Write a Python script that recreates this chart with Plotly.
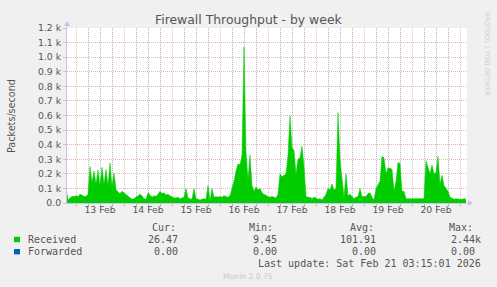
import pandas as pd
import plotly.graph_objects as go

# ---- data (packets/second, hourly) ----
feb12 = [105, 20, 35, 45, 45]  # 19:00 .. 23:00
feb13 = [50, 45, 60, 55, 45, 45, 60, 250, 140, 220, 130, 225, 120, 245, 130, 230, 120, 275, 110, 205, 95, 75, 65, 80]
feb14 = [70, 55, 45, 35, 25, 30, 40, 45, 60, 50, 30, 25, 70, 55, 40, 50, 45, 60, 80, 65, 70, 55, 60, 50]
feb15 = [40, 35, 35, 40, 30, 35, 40, 100, 35, 30, 25, 100, 30, 25, 20, 25, 30, 25, 120, 15, 100, 40, 45, 40]
feb16 = [45, 40, 50, 45, 40, 50, 100, 150, 220, 270, 260, 330, 1070, 350, 160, 330, 120, 80, 110, 90, 100, 70, 60, 50]
feb17 = [45, 40, 45, 40, 35, 60, 200, 180, 190, 200, 330, 600, 380, 360, 200, 300, 310, 390, 250, 45, 40, 40, 30, 40]
feb18 = [35, 25, 30, 20, 40, 60, 100, 90, 130, 90, 100, 620, 300, 170, 40, 200, 50, 60, 45, 30, 40, 45, 100, 45]
feb19 = [45, 45, 65, 70, 40, 20, 100, 130, 150, 320, 310, 200, 240, 240, 230, 80, 150, 280, 270, 80, 80, 30, 30, 30]
feb20 = [30, 30, 25, 30, 30, 30, 30, 290, 240, 200, 260, 200, 210, 320, 130, 190, 120, 100, 80, 40, 30, 25, 30, 25]
feb21 = [25, 25, 30, 26.47]  # 00:00 .. 03:00

received = feb12 + feb13 + feb14 + feb15 + feb16 + feb17 + feb18 + feb19 + feb20 + feb21
times = pd.date_range("2026-02-12 19:00", periods=len(received), freq="h")
forwarded = [0.0] * len(received)

day_labels = ["13 Feb", "14 Feb", "15 Feb", "16 Feb", "17 Feb", "18 Feb", "19 Feb", "20 Feb"]
day_noons = pd.date_range("2026-02-13 12:00", periods=len(day_labels), freq="D")
y_ticks = list(range(0, 1300, 100))
y_text = ["0.0"] + ["%.1f k" % (v / 1000) for v in y_ticks[1:]]

legend_rows = [
    ("Received", "#00CC00", "26.47", "9.45", "101.91", "2.44k"),
    ("Forwarded", "#0066B3", "0.00", "0.00", "0.00", "0.00"),
]

# ---- layout geometry ----
W, H = 497, 287
L, R, T, B = 67, 467, 28, 203


def px(x):
    return (x - L) / (R - L)


def py(y):
    return (B - y) / (B - T)


RED = "#ECB6B6"
GRAY = "#B4B4B4"
AXIS = "#C4C4EE"
TXT = "#555555"

fig = go.Figure()
fig.add_trace(go.Scatter(x=times, y=received, mode="lines", fill="tozeroy",
                         line=dict(color="#00CC00", width=0.5), fillcolor="#00CC00",
                         showlegend=False, hoverinfo="skip"))
for ax in ("x2", "x3"):
    fig.add_trace(go.Scatter(x=times, y=forwarded, mode="lines", xaxis=ax,
                             line=dict(color="#0066B3", width=0), showlegend=False,
                             hoverinfo="skip"))

xr = ["2026-02-12 19:30", "2026-02-21 03:30"]
fig.update_layout(
    width=W, height=H,
    margin=dict(l=L, r=W - R, t=T, b=H - B),
    paper_bgcolor="#F0F0F0", plot_bgcolor="#FFFFFF",
    font=dict(family="DejaVu Sans", size=9.3, color=TXT),
    # 6-hour minor grid (gray)
    xaxis=dict(type="date", range=xr, tick0="2026-02-13", dtick=6 * 3600000,
               showgrid=True, gridcolor=GRAY, griddash="1px,1px", gridwidth=1,
               ticks="outside", ticklen=3, tickcolor=GRAY, showticklabels=False,
               showline=True, linecolor=AXIS, linewidth=1),
    # daily major grid (red)
    xaxis2=dict(type="date", range=xr, overlaying="x", anchor="y", side="bottom",
                tick0="2026-02-13", dtick=86400000,
                showgrid=True, gridcolor=RED, griddash="1px,1px", gridwidth=1,
                ticks="outside", ticklen=3, tickcolor=RED, showticklabels=False,
                showline=False),
    # day labels at noon
    xaxis3=dict(type="date", range=xr, overlaying="x", anchor="y", side="bottom",
                tickmode="array", tickvals=list(day_noons), ticktext=day_labels,
                showgrid=False, ticks="", showline=False,
                tickfont=dict(size=9.3, color=TXT)),
    yaxis=dict(range=[0, 1200], tickmode="array", tickvals=y_ticks, ticktext=y_text,
               showgrid=True, gridcolor=RED, griddash="1px,1px", zeroline=False,
               ticks="outside", ticklen=3, tickcolor=RED,
               showline=True, linecolor=AXIS, linewidth=1,
               tickfont=dict(size=9.3, color=TXT)),
)

shapes = [
    # axis arrow heads
    dict(type="line", xref="paper", yref="paper", x0=px(67), x1=px(67), y0=py(28), y1=py(23),
         line=dict(color=AXIS, width=1)),
    dict(type="path", xref="paper", yref="paper",
         path="M %f %f L %f %f L %f %f Z" % (px(64), py(26), px(70), py(26), px(67), py(21)),
         fillcolor=AXIS, line=dict(width=0)),
    dict(type="line", xref="paper", yref="paper", x0=px(467), x1=px(470), y0=py(203), y1=py(203),
         line=dict(color=AXIS, width=1)),
    dict(type="path", xref="paper", yref="paper",
         path="M %f %f L %f %f L %f %f Z" % (px(468), py(200), px(468), py(206), px(473), py(203)),
         fillcolor=AXIS, line=dict(width=0)),
]

ann = []


def text(x, y, s, xanchor="left", size=10, color=TXT, family="DejaVu Sans Mono", angle=0):
    ann.append(dict(x=px(x), y=py(y), xref="paper", yref="paper", text=s, showarrow=False,
                    xanchor=xanchor, yanchor="middle", textangle=angle,
                    font=dict(family=family, size=size, color=color)))


text(248.5, 19.5, "Firewall Throughput - by week", xanchor="center", size=12.4,
     family="DejaVu Sans")
text(11, 116, "Packets/second", xanchor="center", size=9.6, family="DejaVu Sans", angle=-90)
text(487, 54, "RRDTOOL / TOBI OETIKER", xanchor="center", size=6.5, color="#CFCFCF",
     family="DejaVu Sans", angle=90)

# legend header
text(150, 227, "Cur:")
text(247, 227, "Min:")
text(348, 227, "Avg:")
text(447, 227, "Max:")
for i, (name, color, cur, mn, avg, mx) in enumerate(legend_rows):
    yy = 239.5 + i * 12.2
    shapes.append(dict(type="rect", xref="paper", yref="paper", x0=px(14), x1=px(20),
                       y0=py(yy - 2.7), y1=py(yy + 2.7), fillcolor=color, line=dict(width=0)))
    text(26, yy, name)
    text(179.5, yy, cur, xanchor="right")
    text(278.5, yy, mn, xanchor="right")
    text(377.5, yy, avg, xanchor="right")
    text(483 if mx.endswith("k") else 477, yy, mx, xanchor="right")

text(483, 263.5, "Last update: Sat Feb 21 03:15:01 2026", xanchor="right")
text(248, 276, "Munin 2.0.75", xanchor="center", size=7.6, color="#C8C8C8",
     family="DejaVu Sans")

fig.update_layout(shapes=shapes, annotations=ann)
fig.write_html("out.html")
